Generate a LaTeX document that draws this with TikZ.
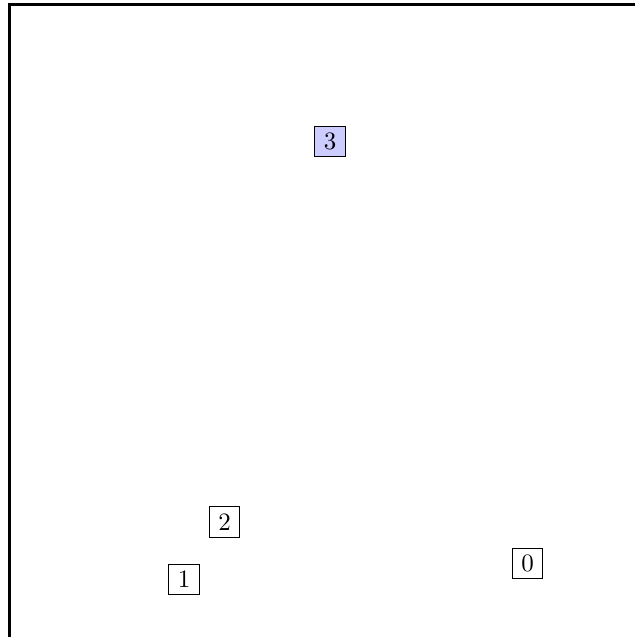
\documentclass[tikz,border=0pt]{standalone}
\begin{document}
\begin{tikzpicture}[x=0.4pt,y=-0.4pt,
  numbox/.style={draw, line width=0.4pt, inner sep=0pt, minimum size=12.2pt, font=\normalsize},
  hl/.style={fill=blue!20},
  frameline/.style={line width=0.9pt}]
\useasboundingbox (0,0) rectangle (634,637);
\draw[frameline] (9.5,640) -- (9.5,4.5) -- (640,4.5);
\node[numbox,hl] (n3) at (330,141.5) {3};
\node[numbox] (n2) at (224.5,522) {2};
\node[numbox] (n1) at (184,579.5) {1};
\node[numbox] (n0) at (527.5,563.5) {0};
\end{tikzpicture}
\end{document}
